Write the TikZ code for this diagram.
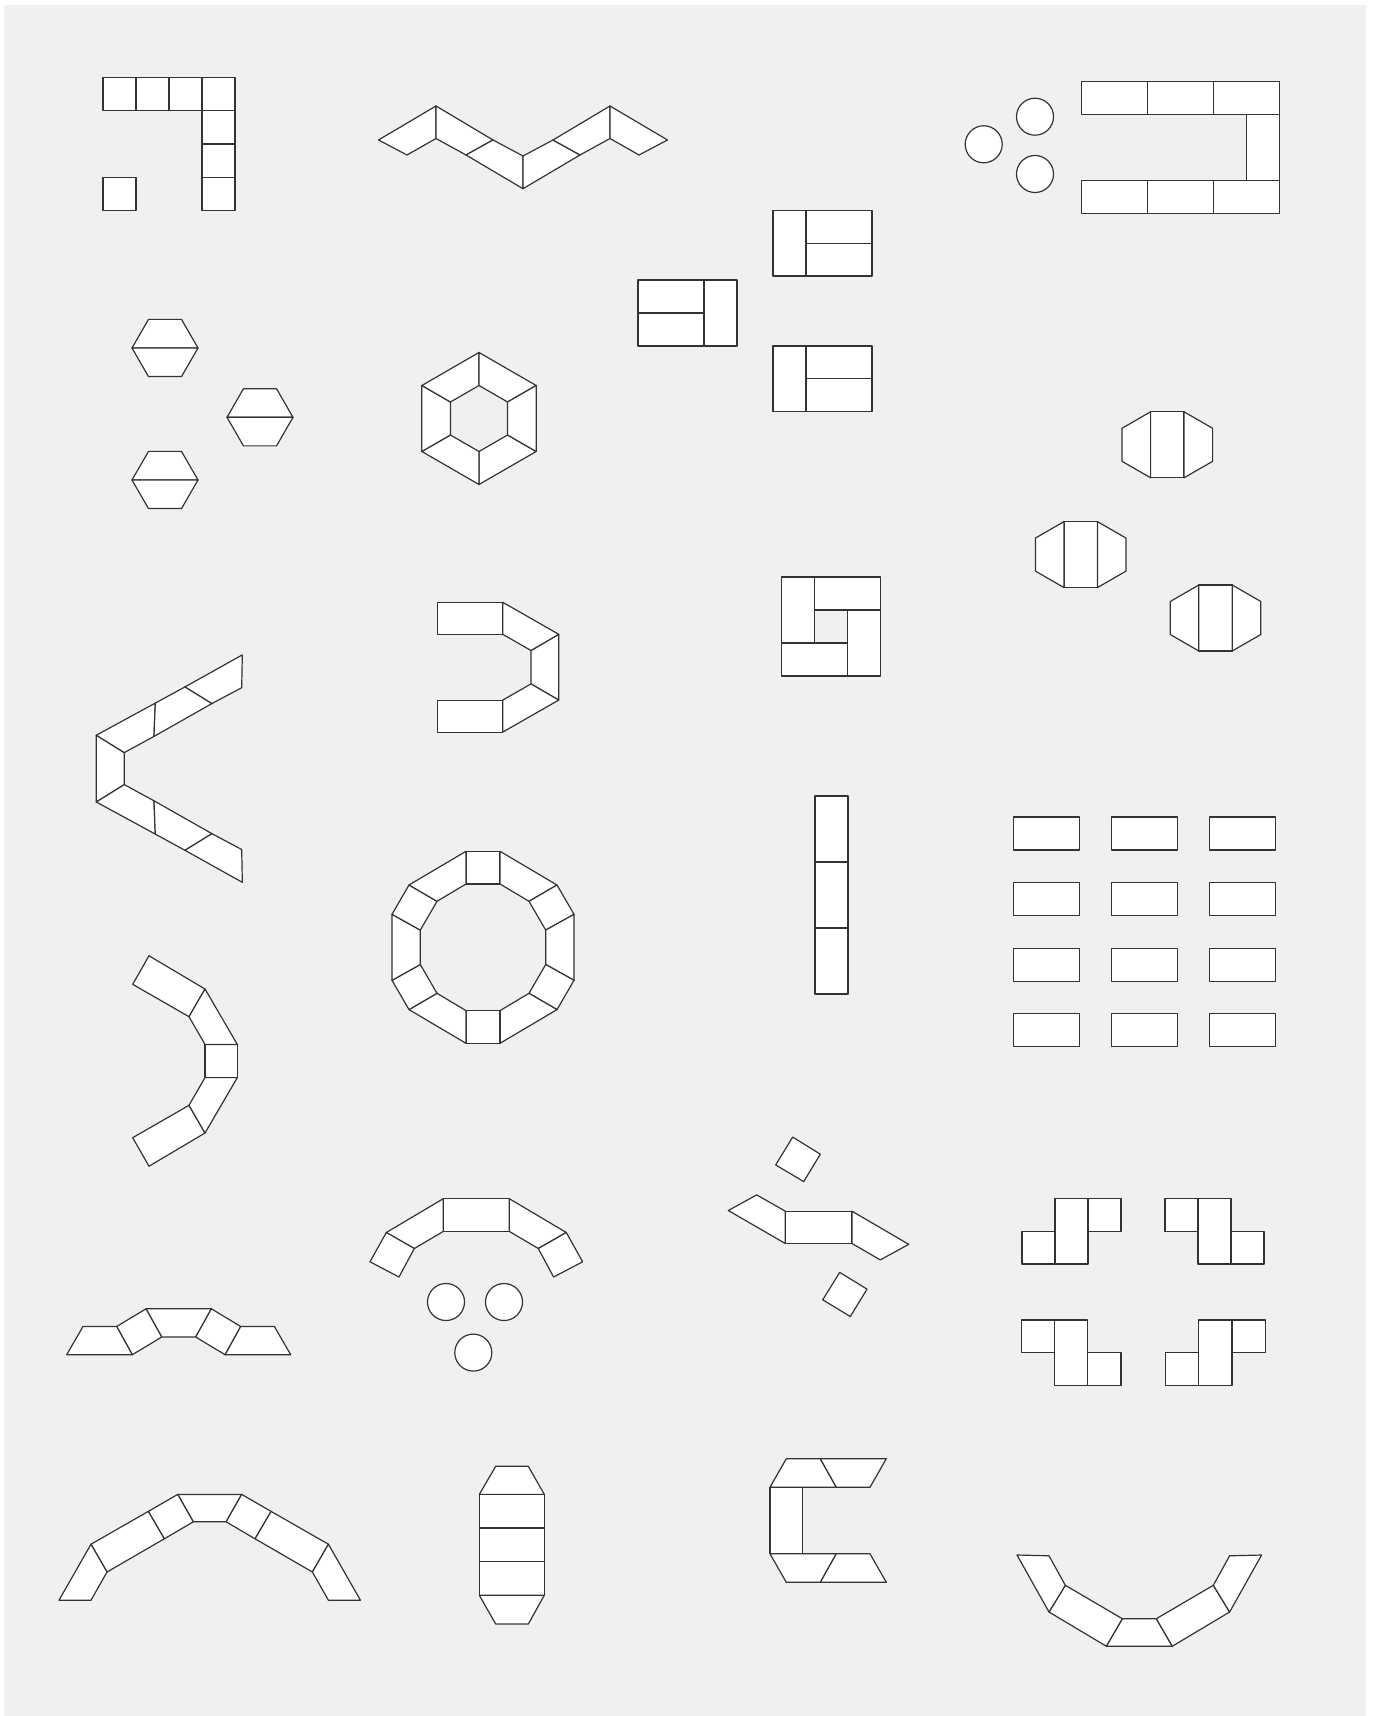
\documentclass[tikz,border=0pt]{standalone}
\usepackage{tikz}

\definecolor{floorgray}{HTML}{F0F0F0}
\definecolor{edgegray}{HTML}{333333}

\begin{document}
\begin{tikzpicture}[
        x=0.5pt, y=-0.5pt,
        tbl/.style={draw=edgegray, fill=white, line width=0.6pt, line join=round},
        stool/.style={draw=edgegray, fill=white, line width=0.6pt},
        floor/.style={fill=floorgray}
    ]

    % Canvas
    \useasboundingbox (0,0) rectangle (1374,1716);
    \fill[white] (0,0) rectangle (1374,1716);
    \fill[floor] (4,5.5) rectangle (1366,1716);

    % L of square tables
    \foreach \x in {103,136,169,202}
        \draw[tbl] (\x,77.5) rectangle ++(33,33.3);
    \foreach \y in {110.8,144.1,177.4}
        \draw[tbl] (202,\y) rectangle ++(33,33.3);
    \draw[tbl] (103,177.4) rectangle ++(33,33.3);

    % Hexagon pairs
    \foreach \cx/\cy in {165/348, 260/417.3, 165/480}{
        \begin{scope}[shift={(\cx,\cy)}]
            \draw[tbl] (-33,0) -- (-16.5,-28.6) -- (16.5,-28.6) -- (33,0) -- cycle;
            \draw[tbl] (-33,0) -- (33,0) -- (16.5,28.6) -- (-16.5,28.6) -- cycle;
        \end{scope}
    }

    % Zigzag row
    \draw[tbl] (378.5,140) -- (436,106) -- (436,138.5) -- (407,155) -- cycle;
    \draw[tbl] (436,106) -- (493,140) -- (466,155) -- (436,138.5) -- cycle;
    \draw[tbl] (493,140) -- (523,156) -- (523,188.7) -- (466,155) -- cycle;
    \draw[tbl] (523,156) -- (553,140) -- (580,155) -- (523,188.7) -- cycle;
    \draw[tbl] (553,140) -- (610,106) -- (610,138.5) -- (580,155) -- cycle;
    \draw[tbl] (610,106) -- (667.5,140) -- (639,155) -- (610,138.5) -- cycle;

    % Hexagon ring
    \begin{scope}[shift={(479,418.5)}]
        \foreach \a in {30,90,...,330}
            \draw[tbl] (\a:66) -- (\a+60:66) -- (\a+60:33) -- (\a:33) -- cycle;
    \end{scope}

    % T-blocks
    \draw[tbl] (638,280) rectangle (704,313);
    \draw[tbl] (638,313) rectangle (704,346);
    \draw[tbl] (704,280) rectangle (737,346);
    \foreach \y in {210.5,346}{
        \draw[tbl] (773,\y) rectangle ++(33,65.5);
        \draw[tbl] (806,\y) rectangle ++(66,32.7);
        \draw[tbl] (806,\y+32.7) rectangle ++(66,32.8);
    }

    % Stools + U
    \draw[stool] (983.7,144.3) circle (18.5);
    \draw[stool] (1035,116.7) circle (18.5);
    \draw[stool] (1035,174) circle (18.5);
    \foreach \x in {1081.5,1147.5,1213.5}{
        \draw[tbl] (\x,81.5) rectangle ++(66,33);
        \draw[tbl] (\x,180.5) rectangle ++(66,33);
    }
    \draw[tbl] (1246.5,114.5) rectangle (1279.5,180.5);

    % Octagon tables
    \foreach \cx/\cy in {1167.3/444.8, 1080.7/554.6, 1215.5/618}{
        \begin{scope}[shift={(\cx,\cy)}]
            \draw[tbl] (-16.7,-33) rectangle (16.7,33);
            \foreach \s in {1,-1}
                \draw[tbl, xscale=\s] (16.7,-33) -- (45.3,-16.5) -- (45.3,16.5) -- (16.7,33) -- cycle;
        \end{scope}
    }

    % Chevron
    \begin{scope}[shift={(0,768.6)}]
        \draw[tbl] (96.3,-33.4) -- (124.3,-16) -- (124.3,16) -- (96.3,33.4) -- cycle;
        \foreach \s in {1,-1}{
            \begin{scope}[yscale=\s]
                \draw[tbl] (96.3,-33.4) -- (155.3,-65.5) -- (154,-32.2) -- (124.3,-16) -- cycle;
                \draw[tbl] (155.3,-65.5) -- (185,-81.7) -- (212,-65.1) -- (154,-32.2) -- cycle;
                \draw[tbl] (185,-81.7) -- (242.3,-113.7) -- (241.7,-80.9) -- (212,-65.1) -- cycle;
            \end{scope}
        }
    \end{scope}

    % Curved bench
    \begin{scope}[shift={(0,1061)}]
        \draw[tbl] (205,-16.6) rectangle (237.3,16.6);
        \foreach \s in {1,-1}{
            \begin{scope}[yscale=\s]
                \draw[tbl] (149,-105.2) -- (205,-72) -- (189,-44.3) -- (132.7,-76.7) -- cycle;
                \draw[tbl] (205,-72) -- (237.3,-16.6) -- (205,-16.6) -- (189,-44.3) -- cycle;
            \end{scope}
        }
    \end{scope}

    % Horseshoe
    \begin{scope}[shift={(0,667.2)}]
        \draw[tbl] (531,-16.7) -- (558.7,-32.9) -- (558.7,32.9) -- (531,16.7) -- cycle;
        \foreach \s in {1,-1}{
            \begin{scope}[yscale=\s]
                \draw[tbl] (437.7,-64.9) rectangle (502.7,-32.9);
                \draw[tbl] (502.7,-64.9) -- (558.7,-32.9) -- (531,-16.7) -- (502.7,-32.9) -- cycle;
            \end{scope}
        }
    \end{scope}

    % Ring of twelve
    \begin{scope}[shift={(483,947.3)}]
        \foreach \n/\ox/\oy/\ix/\iy in {
                0/-17/-96/-17/-63.3, 1/17/-96/17/-63.3, 2/74/-62.3/46/-46, 3/91/-33/62.7/-17.2,
                4/91/33/62.7/17.2, 5/74/62.3/46/46, 6/17/96/17/63.3, 7/-17/96/-17/63.3,
                8/-74/62.3/-46/46, 9/-91/33/-62.7/17.2, 10/-91/-33/-62.7/-17.2, 11/-74/-62.3/-46/-46}{
            \coordinate (ro\n) at (\ox,\oy);
            \coordinate (ri\n) at (\ix,\iy);
        }
    \end{scope}
    \foreach \i in {0,...,11}{
        \pgfmathtruncatemacro\j{mod(\i+1,12)}
        \draw[tbl] (ro\i) -- (ro\j) -- (ri\j) -- (ri\i) -- cycle;
    }

    % Pinwheel
    \draw[tbl] (781.5,577) rectangle (814.5,643);
    \draw[tbl] (814.5,577) rectangle (880.5,610);
    \draw[tbl] (847.5,610) rectangle (880.5,676);
    \draw[tbl] (781.5,643) rectangle (847.5,676);

    % Column
    \foreach \y in {796,862,928}
        \draw[tbl] (815,\y) rectangle ++(33,66);

    % Classroom grid
    \foreach \x in {1013.7,1111.7,1209.7}
        \foreach \y in {817,882.6,948.2,1013.8}
            \draw[tbl] (\x,\y) rectangle ++(66,33);

    % Small arch
    \begin{scope}[shift={(178.7,0)}]
        \draw[tbl] (-32.7,1308.8) -- (32.7,1308.8) -- (17,1337) -- (-17,1337) -- cycle;
        \foreach \s in {1,-1}{
            \begin{scope}[xscale=\s]
                \draw[tbl] (-32.7,1308.8) -- (-17,1337) -- (-46.4,1354.7) -- (-62,1326.5) -- cycle;
                \draw[tbl] (-62,1326.5) -- (-46.4,1354.7) -- (-112,1354.7) -- (-95.7,1326.5) -- cycle;
            \end{scope}
        }
    \end{scope}

    % Big arch
    \begin{scope}[shift={(209.7,0)}]
        \draw[tbl] (-32,1494.4) -- (32,1494.4) -- (16.4,1521.8) -- (-16.4,1521.8) -- cycle;
        \foreach \s in {1,-1}{
            \begin{scope}[xscale=\s]
                \draw[tbl] (-32,1494.4) -- (-16.4,1521.8) -- (-45.4,1538.8) -- (-61.4,1511.4) -- cycle;
                \draw[tbl] (-61.4,1511.4) -- (-45.4,1538.8) -- (-102.7,1572) -- (-118.7,1544.2) -- cycle;
                \draw[tbl] (-118.7,1544.2) -- (-102.7,1572) -- (-118.7,1600.2) -- (-150.7,1600.2) -- cycle;
            \end{scope}
        }
    \end{scope}

    % Arch with stools
    \begin{scope}[shift={(476.3,0)}]
        \draw[tbl] (-33,1198.7) rectangle (33,1231.4);
        \foreach \s in {1,-1}{
            \begin{scope}[xscale=\s]
                \draw[tbl] (-33,1198.7) -- (-33,1231.4) -- (-62,1248.5) -- (-90,1232.5) -- cycle;
                \draw[tbl] (-90,1232.5) -- (-62,1248.5) -- (-77.3,1277) -- (-106.3,1261.8) -- cycle;
            \end{scope}
        }
    \end{scope}
    \draw[stool] (446,1302) circle (18.5);
    \draw[stool] (504,1302) circle (18.5);
    \draw[stool] (473.3,1352.6) circle (18.5);

    % Long octagon
    \draw[tbl] (495.7,1466.3) -- (528.3,1466.3) -- (544.3,1494.4) -- (479.3,1494.4) -- cycle;
    \foreach \y in {1494.4,1528,1561.6}
        \draw[tbl] (479.3,\y) rectangle ++(65,33.6);
    \draw[tbl] (479.3,1595.2) -- (544.3,1595.2) -- (528.3,1624) -- (495.7,1624) -- cycle;

    % Crossing
    \draw[tbl] (792.7,1137.1) -- (820.3,1154.2) -- (803.7,1181.6) -- (775.7,1164.9) -- cycle;
    \draw[tbl] (728.3,1210.5) -- (756.7,1194.9) -- (785.3,1211.2) -- (785.3,1243.5) -- cycle;
    \draw[tbl] (785.3,1211.2) rectangle (852,1243.5);
    \draw[tbl] (852,1211.2) -- (908.7,1244.3) -- (880.3,1259.9) -- (852,1243.5) -- cycle;
    \draw[tbl] (839.7,1272.4) -- (867,1289.1) -- (850.3,1316.5) -- (822.7,1299.8) -- cycle;

    % C shape
    \begin{scope}[shift={(0,1520.5)}]
        \draw[tbl] (770,-33.3) rectangle (802.7,33.3);
        \foreach \s in {1,-1}{
            \begin{scope}[yscale=\s]
                \draw[tbl] (786.3,-61.8) -- (820.3,-61.8) -- (836.3,-33.3) -- (770,-33.3) -- cycle;
                \draw[tbl] (820.3,-61.8) -- (886.3,-61.8) -- (870,-33.3) -- (836.3,-33.3) -- cycle;
            \end{scope}
        }
    \end{scope}

    % Steps
    \draw[tbl] (1022,1231.3) rectangle (1055,1264);
    \draw[tbl] (1055,1198.6) rectangle (1088,1264);
    \draw[tbl] (1088,1198.6) rectangle (1121,1231.3);
    \draw[tbl] (1165,1198.6) rectangle (1198,1231.3);
    \draw[tbl] (1198,1198.6) rectangle (1231,1264);
    \draw[tbl] (1231,1231.3) rectangle (1264,1264);
    \draw[tbl] (1021.5,1320) rectangle (1054.5,1352.5);
    \draw[tbl] (1054.5,1320) rectangle (1087.5,1385.3);
    \draw[tbl] (1087.5,1352.5) rectangle (1121,1385.3);
    \draw[tbl] (1165.5,1352.5) rectangle (1198.3,1385.3);
    \draw[tbl] (1198.3,1320) rectangle (1232,1385.3);
    \draw[tbl] (1232,1320) rectangle (1265.5,1352.5);

    % Smile
    \begin{scope}[shift={(1139.3,0)}]
        \draw[tbl] (-17,1618.7) -- (17,1618.7) -- (33,1646.2) -- (-33,1646.2) -- cycle;
        \foreach \s in {1,-1}{
            \begin{scope}[xscale=\s]
                \draw[tbl] (-17,1618.7) -- (-33,1646.2) -- (-90.3,1612) -- (-74,1585.3) -- cycle;
                \draw[tbl] (-74,1585.3) -- (-90.3,1612) -- (-122.3,1555) -- (-90.3,1555.8) -- cycle;
            \end{scope}
        }
    \end{scope}

\end{tikzpicture}
\end{document}
